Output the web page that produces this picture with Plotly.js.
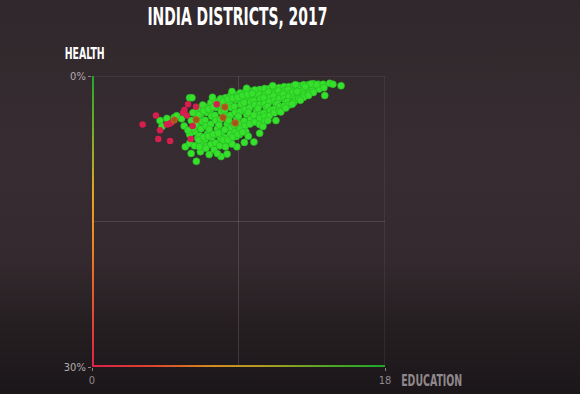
<!DOCTYPE html>
<html><head><meta charset="utf-8">
<script src="https://cdn.plot.ly/plotly-3.0.1.min.js"></script>
<style>
html,body{margin:0;padding:0;width:580px;height:394px;overflow:hidden;}
body{background:linear-gradient(to bottom,#30282c 0%,#372c31 40%,#34292e 66%,#251f22 82%,#1b1619 100%);}
#chart{width:580px;height:394px;}
</style></head><body><div id="chart"></div>
<script>
// Education (x) and Health (y, %) per district
const educGreen = [
 6.35,6.45,6.4,6.3,6.5,
 6.7,6.65,6.75,6.7,6.6,6.75,
 7.0,7.05,6.95,7.0,7.1,6.95,7.0,
 7.3,7.25,7.35,7.3,7.2,7.35,7.3,
 7.6,7.65,7.55,7.6,7.7,7.55,7.6,
 7.9,7.85,7.95,7.9,7.8,7.95,7.9,7.85,
 8.2,8.25,8.15,8.2,8.3,8.15,8.2,8.25,
 8.5,8.45,8.55,8.5,8.4,8.55,8.5,8.45,
 8.8,8.85,8.75,8.8,8.9,8.75,8.8,8.85,
 9.1,9.05,9.15,9.1,9.0,9.15,9.1,9.05,
 9.4,9.45,9.35,9.4,9.5,9.35,9.4,9.45,
 9.7,9.65,9.75,9.7,9.6,9.75,9.7,
 10.0,10.05,9.95,10.0,10.1,9.95,10.0,
 10.3,10.25,10.35,10.3,10.2,10.35,10.3,
 10.6,10.65,10.55,10.6,10.7,10.55,10.6,
 10.9,10.85,10.95,10.9,10.8,10.95,
 11.2,11.25,11.15,11.2,11.3,11.15,
 11.5,11.45,11.55,11.5,11.4,11.55,
 11.8,11.85,11.75,11.8,11.9,
 12.1,12.05,12.15,12.1,12.0,
 12.4,12.45,12.35,12.4,12.5,
 12.7,12.65,12.75,12.7,
 13.0,13.05,12.95,13.0,
 13.3,13.25,13.35,
 13.6,13.65,13.55,
 13.9,13.85,13.95,
 14.2,14.25,
 10.3,10.6,10.9,11.2,11.5,11.8,12.1,12.4,12.7,13.0,13.3,13.6,
 6.0,6.14,4.18,4.6,5.05,5.5,5.66,5.2,4.3,
 5.73,6.0,6.09,6.41,6.66,7.0,7.2,7.93,8.3,8.2,8.9,9.36,9.95,10.3,10.5,11.3,11.6,12.3,12.8,13.3,
 9.5,10.0,11.1,12.5,13.45,13.8,14.6,15.3,14.3,14.8,
 7.9,8.9,8.6,7.4,6.8,6.2,6.1,6.2,6.0,5.9,6.3,6.6,7.5,7.7,8.6,9.6,10.8,11.9,12.6,13.1,
 6.55,6.85,7.15,7.45,7.75,8.05,8.35,8.65,8.95,9.25,9.55,9.85,
 6.55,6.85,7.15,7.45,7.75,8.05,8.35,8.65,8.95,9.25
];
const healthGreen = [
 3.7,4.35,5.1,5.75,6.4,
 3.35,4.05,4.7,5.45,6.15,6.9,
 3.2,3.75,4.55,5.15,5.95,6.55,7.25,
 2.75,3.55,4.15,4.95,5.5,6.35,7.05,
 2.65,3.25,4.05,4.6,5.45,6.05,6.9,
 2.35,3.05,3.65,4.45,5.05,5.85,6.45,7.2,
 2.25,2.85,3.55,4.15,4.95,5.55,6.35,6.85,
 2.05,2.75,3.25,4.05,4.55,5.35,5.95,6.65,
 1.95,2.45,3.15,3.75,4.45,5.05,5.75,6.25,
 1.75,2.45,2.95,3.65,4.15,4.95,5.45,6.05,
 1.7,2.25,2.75,3.45,3.95,4.65,5.15,5.75,
 1.55,2.15,2.65,3.25,3.75,4.45,4.95,
 1.5,1.95,2.55,2.95,3.65,4.05,4.75,
 1.4,1.9,2.35,2.95,3.35,3.95,4.35,
 1.3,1.85,2.25,2.85,3.25,3.85,4.15,
 1.3,1.65,2.2,2.65,3.15,3.55,
 1.2,1.7,2.05,2.55,2.85,3.45,
 1.2,1.55,2.05,2.35,2.85,3.15,
 1.1,1.5,1.85,2.35,2.65,
 1.1,1.4,1.85,2.15,2.65,
 1.0,1.4,1.7,2.15,2.35,
 1.0,1.3,1.7,1.95,
 0.9,1.3,1.55,1.9,
 0.9,1.15,1.5,
 0.8,1.15,1.4,
 0.85,1.05,1.35,
 0.85,1.2,
 5.0,4.7,4.1,3.8,3.6,3.1,3.0,2.7,2.35,2.2,1.8,1.7,
 2.24,2.24,4.6,4.37,4.27,4.4,5.16,4.1,5.2,
 7.3,6.95,7.98,8.8,7.8,7.46,8.1,8.3,8.05,7.3,7.3,6.85,6.8,5.9,5.2,4.6,3.7,2.9,2.5,2.0,
 1.27,1.44,1.0,0.9,0.83,0.9,0.76,1.0,2.0,0.85,
 2.4,2.1,1.6,2.2,3.0,3.8,4.6,5.4,6.0,5.6,7.2,7.3,7.6,8.0,7.0,6.2,4.6,3.3,1.6,1.1,
 4.0,3.6,3.4,3.2,2.9,2.6,2.4,2.3,2.2,2.0,1.9,1.8,
 6.6,6.3,6.2,6.0,5.9,6.6,6.6,6.3,6.0,5.8
];
const educRed = [3.11,3.93,4.07,4.18,4.8,4.73,4.85,5.68,5.9,6.39,5.82,6.07,6.18,7.66,5.6,4.6];
const healthRed = [5.0,4.06,6.5,5.6,6.7,4.95,4.85,3.5,2.9,3.17,4.06,6.5,5.16,2.92,3.8,5.0];
const educAmber = [6.4,8.16,8.05,8.8,5.05];
const healthAmber = [4.5,3.2,4.27,4.85,4.54];

const xTickVals = [0, 18];
const xTickText = ['0', '18'];
const yTickVals = [0, 30];
const yTickText = ['0%', '30%'];

const narrow = 'Liberation Sans Narrow, DejaVu Sans Condensed, Arial Narrow, sans-serif';
const gridCol = 'rgba(225,195,210,0.17)';

function gradURI(vertical, stops){
  const g = stops.map(s => '<stop offset="' + s[0] + '" stop-color="' + s[1] + '"/>').join('');
  const svg = '<svg xmlns="http://www.w3.org/2000/svg" width="100" height="100" viewBox="0 0 100 100" preserveAspectRatio="none">' +
    '<defs><linearGradient id="g" x1="0" y1="0" x2="' + (vertical ? 0 : 1) + '" y2="' + (vertical ? 1 : 0) + '">' + g +
    '</linearGradient></defs><rect width="100" height="100" fill="url(#g)"/></svg>';
  return 'data:image/svg+xml;charset=utf-8,' + encodeURIComponent(svg);
}

const traces = [
  {type:'scatter', mode:'markers', x:educGreen, y:healthGreen, hoverinfo:'skip',
   marker:{size:7, color:'#36e02c', line:{width:0.6, color:'#27b825'}}},
  {type:'scatter', mode:'markers', x:educRed, y:healthRed, hoverinfo:'skip',
   marker:{size:6.5, color:'#d61f4e', line:{width:0}}},
  {type:'scatter', mode:'markers', x:educAmber, y:healthAmber, hoverinfo:'skip',
   marker:{size:6.5, color:'#a3561c', line:{width:0.8, color:'#c46a1e'}}}
];

const axisCommon = {
  showgrid:false, zeroline:false, showline:false,
  ticks:'outside', ticklen:3, tickwidth:1, tickcolor:'#8a8386', fixedrange:true,
  tickfont:{family:narrow, size:11, color:'#8f888c'}
};

const layout = {
  width:580, height:394,
  margin:{l:92, r:195, t:76, b:27},
  paper_bgcolor:'rgba(0,0,0,0)', plot_bgcolor:'rgba(0,0,0,0)',
  showlegend:false,
  xaxis:Object.assign({}, axisCommon, {range:[0,18], tickvals:xTickVals, ticktext:xTickText}),
  yaxis:Object.assign({}, axisCommon, {range:[30,0], tickvals:yTickVals, ticktext:yTickText,
    tickfont:{family:narrow, size:11, color:'#b3abaf'}}),
  shapes:[
    {type:'line', xref:'x', yref:'y', x0:9, x1:9, y0:0, y1:30, line:{color:gridCol, width:1}, layer:'below'},
    {type:'line', xref:'x', yref:'y', x0:0, x1:18, y0:15, y1:15, line:{color:gridCol, width:1}, layer:'below'},
    {type:'line', xref:'x', yref:'y', x0:0, x1:18, y0:0, y1:0, line:{color:gridCol, width:1}, layer:'below'},
    {type:'line', xref:'x', yref:'y', x0:18, x1:18, y0:0, y1:30, line:{color:gridCol, width:1}, layer:'below'}
  ],
  images:[
    {source:gradURI(true, [[0,'#22a82c'],[0.22,'#86b028'],[0.4,'#eaa820'],[0.55,'#f28c20'],[0.75,'#ea5a2c'],[1,'#e0204a']]),
     xref:'x', yref:'y', x:0, y:-0.1, sizex:0.24, sizey:30.3, xanchor:'center', yanchor:'top', sizing:'stretch', layer:'above'},
    {source:gradURI(false, [[0,'#e0204a'],[0.2,'#e2442f'],[0.42,'#d8901e'],[0.6,'#b0a020'],[0.8,'#54aa26'],[1,'#20aa2c']]),
     xref:'x', yref:'y', x:-0.1, y:30, sizex:18.1, sizey:0.4, xanchor:'left', yanchor:'middle', sizing:'stretch', layer:'above'}
  ],
  annotations:[
    {text:'INDIA DISTRICTS, 2017', xref:'paper', yref:'paper', x:0.495, y:1.206, xanchor:'center', yanchor:'middle',
     showarrow:false, font:{family:narrow, size:25, color:'#ffffff', weight:'bold'}},
    {text:'HEALTH', xref:'paper', yref:'paper', x:-0.027, y:1.076, xanchor:'center', yanchor:'middle',
     showarrow:false, font:{family:narrow, size:16, color:'#ffffff', weight:'bold'}},
    {text:'EDUCATION', xref:'paper', yref:'paper', x:1.16, y:-0.048, xanchor:'center', yanchor:'middle',
     showarrow:false, font:{family:narrow, size:16, color:'#8f898c', weight:'bold'}}
  ]
};

Plotly.newPlot('chart', traces, layout, {staticPlot:true, displayModeBar:false, responsive:false}).then(function(){
  const widths = {'INDIA DISTRICTS, 2017':180, 'HEALTH':40, 'EDUCATION':61};
  document.querySelectorAll('text.annotation-text').forEach(function(t){
    const w = widths[t.textContent];
    if (w) { t.setAttribute('textLength', w); t.setAttribute('lengthAdjust', 'spacingAndGlyphs'); }
  });
});
</script></body></html>
